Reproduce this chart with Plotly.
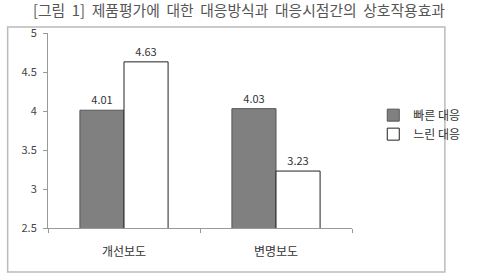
import plotly.graph_objects as go

categories = ["개선보도", "변명보도"]
fast_values = [4.01, 4.03]
slow_values = [4.63, 3.23]
series_names = ["빠른 대응", "느린 대응"]
y_ticks = [2.5, 3, 3.5, 4, 4.5, 5]
y_tick_labels = ["2.5", "3", "3.5", "4", "4.5", "5"]
title_text = "[그림 1] 제품평가에 대한 대응방식과 대응시점간의 상호작용효과"

FONT = "Noto Sans CJK KR"

fig = go.Figure()
fig.add_trace(go.Bar(
    x=categories, y=fast_values, name=series_names[0],
    marker=dict(color="#808080", line=dict(color="#555555", width=1)),
    text=[f"{v:.2f}" for v in fast_values], textposition="outside",
    textfont=dict(size=11, color="#333333"), cliponaxis=False,
))
fig.add_trace(go.Bar(
    x=categories, y=slow_values, name=series_names[1],
    marker=dict(color="#ffffff", line=dict(color="#222222", width=1)),
    text=[f"{v:.2f}" for v in slow_values], textposition="outside",
    textfont=dict(size=11, color="#333333"), cliponaxis=False,
))

title_spaced = title_text.replace(" ", "\u00a0\u00a0")

fig.update_layout(
    width=477, height=276,
    margin=dict(l=48, r=105, t=33, b=48),
    paper_bgcolor="white", plot_bgcolor="white",
    font=dict(family=FONT, color="#333333", size=11),
    barmode="group", bargap=0.42, bargroupgap=0,
    showlegend=True,
    legend=dict(x=1.07, y=0.53, xanchor="left", yanchor="middle",
                font=dict(size=12, color="#333333"), bgcolor="rgba(0,0,0,0)",
                itemwidth=30, tracegroupgap=4),
    xaxis=dict(showline=True, linecolor="#999999", linewidth=1,
               ticks="outside", tickson="boundaries", ticklen=4, tickcolor="#999999",
               ticklabelstandoff=13, automargin=False,
               tickfont=dict(size=12, color="#333333"), showgrid=False),
    yaxis=dict(range=[2.5, 5], tickvals=y_ticks, ticktext=y_tick_labels,
               showline=True, linecolor="#999999", automargin=False,
               linewidth=1, ticks="outside", ticklen=4, tickcolor="#999999",
               ticklabelstandoff=4,
               showgrid=False, zeroline=False,
               tickfont=dict(size=11, color="#444444")),
    annotations=[dict(text=title_spaced, xref="paper", yref="paper",
                      x=(252 - 48) / 324, y=(228 - 9) / 195, xanchor="center", yanchor="middle",
                      showarrow=False, font=dict(size=14.8, color="#555555", family=FONT))],
    shapes=[dict(type="rect", xref="paper", yref="paper",
                 x0=(5 - 48) / 324, x1=(471 - 48) / 324,
                 y0=(228 - 272) / 195, y1=(228 - 27) / 195,
                 line=dict(color="#bbbbbb", width=1.5), layer="below")],
)

fig.write_html("out.html")
